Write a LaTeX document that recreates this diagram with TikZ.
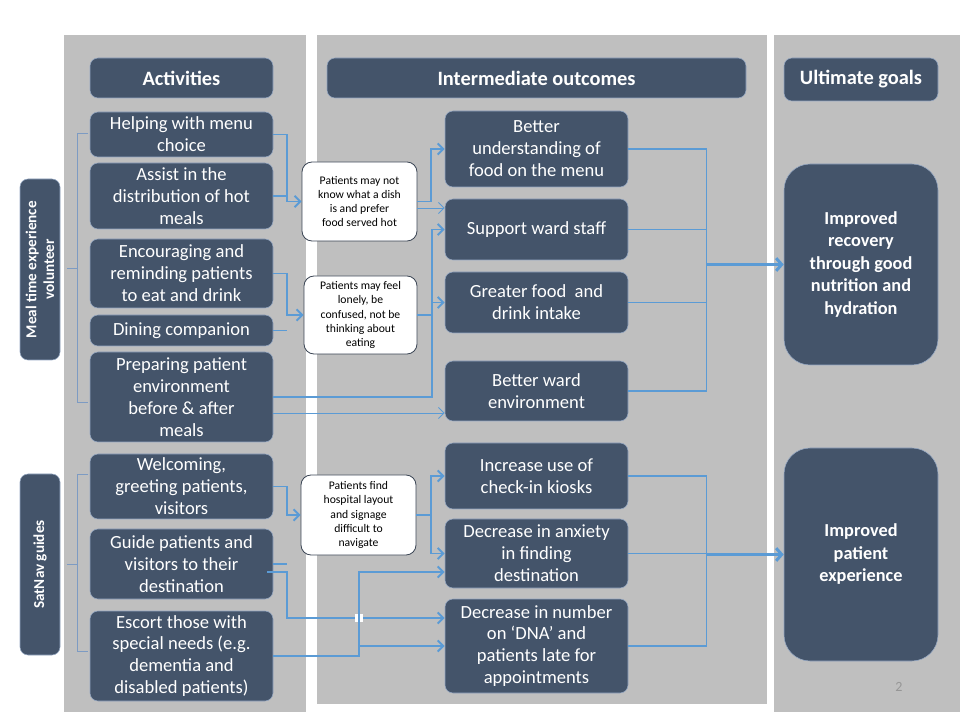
\documentclass[tikz,border=0pt]{standalone}
\usepackage{fontspec}
\setmainfont{Carlito}
\usepackage{tikz}
\usetikzlibrary{arrows.meta,calc}

\definecolor{panelgray}{RGB}{191,191,191}
\definecolor{navy}{RGB}{68,84,106}
\definecolor{navyedge}{RGB}{150,168,195}
\definecolor{linkblue}{RGB}{91,155,213}
\definecolor{bracketblue}{RGB}{125,155,195}
\definecolor{calloutedge}{RGB}{60,70,85}
\definecolor{pagegray}{RGB}{150,150,150}

\newlength\pxu
\setlength\pxu{0.025cm}

\tikzset{
  box/.style={fill=navy, draw=navyedge, line width=0.4pt, rounded corners=8\pxu,
    text=white, align=center, inner sep=1pt, font=\fontsize{13.2}{15.6}\selectfont},
  act/.style={box, minimum width=183\pxu},
  outc/.style={box, minimum width=183\pxu},
  header/.style={box, font=\fontsize{14.5}{17}\selectfont\bfseries},
  goal/.style={box, rounded corners=26\pxu, minimum width=154\pxu,
    font=\fontsize{13}{16}\selectfont\bfseries},
  side/.style={box, rotate=90, minimum width=181\pxu, minimum height=40\pxu,
    font=\fontsize{10.8}{12.6}\selectfont\bfseries},
  callout/.style={fill=white, draw=calloutedge, line width=0.6pt, rounded corners=10\pxu,
    align=center, inner sep=1pt, font=\fontsize{8.3}{10}\selectfont},
  link/.style={draw=linkblue, line width=1.4pt},
  thinlink/.style={draw=linkblue, line width=0.7pt},
  sumlink/.style={draw=linkblue, line width=1pt},
  tip/.style={-{Straight Barb[length=4pt,width=8pt]}},
  bigarrow/.style={draw=linkblue, line width=2.1pt, -{Straight Barb[length=4pt,width=9pt]}},
  bracket/.style={draw=bracketblue, line width=0.7pt},
}

\begin{document}
\begin{tikzpicture}[x=0.025cm, y=-0.025cm]
    \useasboundingbox (0,0) rectangle (960,720);
    % Column panels
    \fill[panelgray] (64,35) rectangle (306,712);
    \fill[panelgray] (317,35) rectangle (767,704);
    \fill[panelgray] (774,35) rectangle (960,712);

    % Headers
    \node[header, minimum width=183\pxu, minimum height=40\pxu] (hAct) at (181.5,78) {Activities};
    \node[header, minimum width=419\pxu, minimum height=40\pxu] (hInt) at (536.5,78) {Intermediate outcomes};
    \node[header, minimum width=154\pxu, minimum height=43\pxu] (hUlt) at (861,79.5) {Ultimate goals};

    % Volunteer groups
    \node[side] (sMeal) at (40,269.5) {Meal time experience\\volunteer};
    \node[side] (sSat) at (40,564.5) {SatNav guides};
    \draw[bracket] (88,133) -| (77,402) -- (88,402);
    \draw[bracket] (77,268) -- (67,268);
    \draw[bracket] (88,474) -| (77,651) -- (88,651);
    \draw[bracket] (77,564) -- (67,564);

    % Activities
    \node[act, minimum height=45\pxu] (aMenu) at (181.5,134.5) {Helping with menu\\choice};
    \node[act, minimum height=66\pxu] (aHot) at (181.5,196) {Assist in the\\distribution of hot\\meals};
    \node[act, minimum height=69\pxu] (aEat) at (181.5,273.5) {Encouraging and\\reminding patients\\to eat and drink};
    \node[act, minimum height=31\pxu] (aDine) at (181.5,330.5) {Dining companion};
    \node[act, minimum height=90\pxu] (aEnv) at (181.5,397) {Preparing patient\\environment\\before \& after\\meals};
    \node[act, minimum height=65\pxu] (aWelcome) at (181.5,486.5) {Welcoming,\\greeting patients,\\visitors};
    \node[act, minimum height=70\pxu] (aGuide) at (181.5,564) {Guide patients and\\visitors to their\\destination};
    \node[act, minimum height=90\pxu] (aEscort) at (181.5,656) {Escort those with\\special needs (e.g.\\dementia and\\disabled patients)};

    % Barriers
    \node[callout, minimum width=115\pxu, minimum height=79\pxu] (c1) at (359.5,201.5) {Patients may not\\know what a dish\\is and prefer\\food served hot};
    \node[callout, minimum width=113\pxu, minimum height=78\pxu] (c2) at (360.5,315) {Patients may feel\\lonely, be\\confused, not be\\thinking about\\eating};
    \node[callout, minimum width=115\pxu, minimum height=80\pxu] (c3) at (358.5,515) {Patients find\\hospital layout\\and signage\\difficult to\\navigate};

    % Intermediate outcomes
    \node[outc, minimum height=76\pxu] (oMenu) at (536.5,149) {Better\\understanding of\\food on the menu};
    \node[outc, minimum height=61\pxu] (oStaff) at (536.5,229.5) {Support ward staff};
    \node[outc, minimum height=61\pxu] (oIntake) at (536.5,302.5) {Greater food\ \ and\\drink intake};
    \node[outc, minimum height=60\pxu] (oWard) at (536.5,391) {Better ward\\environment};
    \node[outc, minimum height=66\pxu] (oKiosk) at (536.5,476) {Increase use of\\check-in kiosks};
    \node[outc, minimum height=69\pxu] (oAnx) at (536.5,553.5) {Decrease in anxiety\\in finding\\destination};
    \node[outc, minimum height=94\pxu] (oDNA) at (536.5,646) {Decrease in number\\on ‘DNA’ and\\patients late\ for\\appointments};

    % Ultimate goals
    \node[goal, minimum height=201\pxu] (gRec) at (861,264.5) {Improved\\recovery\\through good\\nutrition and\\hydration};
    \node[goal, minimum height=213\pxu] (gExp) at (861,554.5) {Improved\\patient\\experience};
    \node[text=pagegray, font=\fontsize{10}{12}\selectfont] (pageNo) at (899,687) {2};

    % Activities to barriers
    \draw[link, tip] (aMenu.east) -- ++(14,0) |- (c1.west);
    \draw[link] (aHot.east) -- ++(14,0);
    \draw[link, tip] (aEat.east) -- ++(14,0) |- (c2.west);
    \draw[link] (aDine.east) -- ++(14,0);
    \draw[link, tip] (aWelcome.east) -- ++(14,0) |- (c3.west);
    \draw[link] (aGuide.east) -- ++(14,0);

    % Barriers and activities to outcomes
    \draw[link, tip] (c1.east) -- ++(14,0) |- (oMenu.west);
    \coordinate (c1lo) at ($(c1.east)+(0,6.5)$);
    \draw[thinlink, tip] (c1lo) -- (c1lo -| oStaff.west);
    \draw[link, tip] (c2.east) -- ++(15,0) |- (oIntake.west);
    \draw[link, tip] (aEnv.east) -- ++(159,0) |- (oStaff.west);
    \coordinate (envlo) at ($(aEnv.east)+(0,16)$);
    \draw[thinlink, tip] (envlo) -- (envlo -| oWard.west);
    \draw[link, tip] (c3.east) -- ++(15,0) |- (oKiosk.west);
    \draw[link, tip] ($(c3.east)+(15,0)$) |- (oAnx.west);
    \coordinate (guidelo) at ($(aGuide.east)+(-6,8)$);
    \coordinate (dnahi) at ($(oDNA.west)+(0,-28)$);
    \coordinate (escsplit) at ($(aEscort.east)+(86,0)$);
    \coordinate (anxlo) at ($(oAnx.west)+(0,18.5)$);
    \draw[link, tip] (guidelo) -- ++(20,0) |- (dnahi);
    \fill[white] (escsplit |- dnahi) ++(-4,-4) rectangle ++(8,8);
    \draw[link, tip] (aEscort.east) -- (escsplit) |- (anxlo);
    \draw[link, tip] (escsplit |- oDNA.west) -- (oDNA.west);

    % Outcomes to goals
    \draw[sumlink] (oMenu.east) -- ++(78,0) coordinate (mergeA) |- (oWard.east);
    \draw[sumlink] (oStaff.east) -- (oStaff.east -| mergeA);
    \draw[sumlink] (oIntake.east) -- (oIntake.east -| mergeA);
    \draw[bigarrow] (mergeA |- gRec.west) -- (gRec.west);
    \draw[sumlink] (oKiosk.east) -- ++(78,0) coordinate (mergeB) |- (oDNA.east);
    \draw[sumlink] (oAnx.east) -- (oAnx.east -| mergeB);
    \draw[bigarrow] (mergeB |- gExp.west) -- (gExp.west);
\end{tikzpicture}
\end{document}
